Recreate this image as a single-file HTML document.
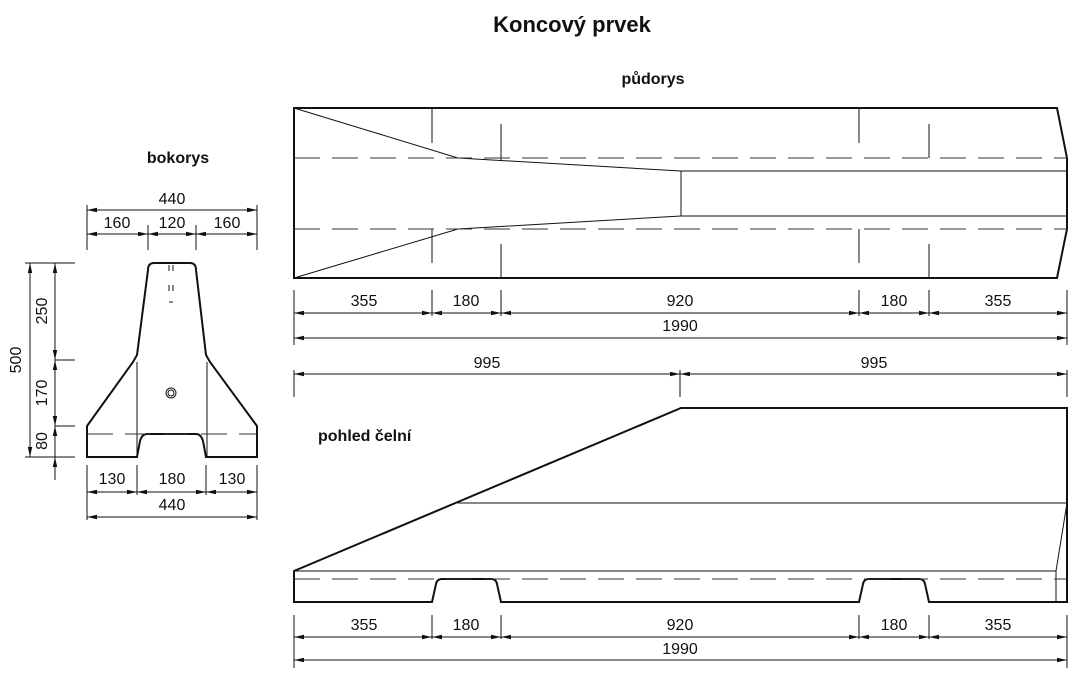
<!DOCTYPE html>
<html><head><meta charset="utf-8"><style>
html,body{margin:0;padding:0;background:#fff;}
svg{display:block;}
text{font-family:"Liberation Sans",sans-serif;fill:#111;}
.t{font-size:16px;text-anchor:middle;}
.b{font-weight:bold;}
</style></head><body>
<svg width="1087" height="691" viewBox="0 0 1087 691" xmlns="http://www.w3.org/2000/svg">
<defs>
<marker id="a" viewBox="0 0 10 6" refX="10" refY="3" markerWidth="10" markerHeight="6" orient="auto-start-reverse" markerUnits="userSpaceOnUse"><path d="M0,0.8 L10,3 L0,5.2 Z" fill="#111"/></marker>
</defs>
<text x="572" y="32" font-size="22" class="b" text-anchor="middle">Koncový prvek</text>
<text x="653" y="84" font-size="16" class="b" text-anchor="middle">půdorys</text>
<text x="178" y="163" font-size="16" class="b" text-anchor="middle">bokorys</text>
<text x="318" y="441" font-size="16" class="b">pohled čelní</text>

<g stroke="#111" fill="none">
<!-- plan -->
<path d="M294,108 H1057 L1067,158 V229 L1057,278 H294 Z" stroke-width="2"/>
<g stroke-width="1">
<path d="M294,108 L458,158 L681,171 H1067 M294,278 L458,229 L681,216 H1067 M681,171 V216"/>
<path d="M432,108 V143 M432,229 V263 M501,124 V160 M501,244 V278 M859,108 V143 M859,229 V263 M929,124 V158 M929,244 V278"/>
<path d="M294,158 H1067 M294,229 H1067" stroke-dasharray="26,12" stroke="#333"/>
</g>
<!-- plan dims -->
<g stroke-width="1">
<path d="M294,290 V345 M432,290 V316 M501,290 V316 M859,290 V316 M929,290 V316 M1067,290 V345"/>
<path d="M294,313 H432" marker-start="url(#a)" marker-end="url(#a)"/>
<path d="M432,313 H501" marker-start="url(#a)" marker-end="url(#a)"/>
<path d="M501,313 H859" marker-start="url(#a)" marker-end="url(#a)"/>
<path d="M859,313 H929" marker-start="url(#a)" marker-end="url(#a)"/>
<path d="M929,313 H1067" marker-start="url(#a)" marker-end="url(#a)"/>
<path d="M294,338 H1067" marker-start="url(#a)" marker-end="url(#a)"/>
<path d="M294,370 V397 M680,370 V397 M1067,370 V397"/>
<path d="M294,374 H680" marker-start="url(#a)" marker-end="url(#a)"/>
<path d="M680,374 H1067" marker-start="url(#a)" marker-end="url(#a)"/>
</g>
<!-- front view -->
<path d="M294,571 L681,408 H1067 V602 H929 L925,584 Q924,579 919,579 H869 Q864,579 863,584 L859,602 H501 L497,584 Q496,579 491,579 H442 Q437,579 436,584 L432,602 H294 Z" stroke-width="2"/>
<g stroke-width="1">
<path d="M458,503 H1067 M294,571 H1056 M1056,571 V602 M1056,571 L1067,503"/>
<path d="M294,579 H1067" stroke-dasharray="26,12" stroke="#333"/>
<path d="M294,615 V668 M432,615 V639 M501,615 V639 M859,615 V639 M929,615 V639 M1067,615 V668"/>
<path d="M294,637 H432" marker-start="url(#a)" marker-end="url(#a)"/>
<path d="M432,637 H501" marker-start="url(#a)" marker-end="url(#a)"/>
<path d="M501,637 H859" marker-start="url(#a)" marker-end="url(#a)"/>
<path d="M859,637 H929" marker-start="url(#a)" marker-end="url(#a)"/>
<path d="M929,637 H1067" marker-start="url(#a)" marker-end="url(#a)"/>
<path d="M294,660 H1067" marker-start="url(#a)" marker-end="url(#a)"/>
</g>
<!-- side view -->
<path d="M154,263 H190 Q196,263 196,270 L206,355 L210,362 L257,426 V457 H206 L203,441 Q201,434 196,434 H147 Q142,434 140,441 L137,457 H87 V426 L133,362 L137,355 L148,270 Q148,263 154,263 Z" stroke-width="2"/>
<g stroke-width="1">
<path d="M137,362 V457 M207,362 V457"/>
<path d="M87,434 H257" stroke-dasharray="26,12" stroke="#333"/>
<circle cx="171" cy="393" r="5"/><circle cx="171" cy="393" r="3"/>
<path d="M169,265 V271 M173,265 V271 M169,285 V291 M173,285 V291 M169,302 H173"/>
<path d="M87,205 V250 M148,225 V250 M196,225 V250 M257,205 V250"/>
<path d="M87,210 H257" marker-start="url(#a)" marker-end="url(#a)"/>
<path d="M87,234 H148" marker-start="url(#a)" marker-end="url(#a)"/>
<path d="M148,234 H196" marker-start="url(#a)" marker-end="url(#a)"/>
<path d="M196,234 H257" marker-start="url(#a)" marker-end="url(#a)"/>
<path d="M25,263 H75 M55,360 H75 M55,426 H75 M25,457 H75"/>
<path d="M30,263 V457" marker-start="url(#a)" marker-end="url(#a)"/>
<path d="M55,263 V360" marker-start="url(#a)" marker-end="url(#a)"/>
<path d="M55,360 V426" marker-start="url(#a)" marker-end="url(#a)"/>
<path d="M55,426 V457" marker-start="url(#a)"/>
<path d="M55,480 V457" marker-end="url(#a)"/>
<path d="M87,465 V520 M137,465 V495 M206,465 V495 M257,465 V520"/>
<path d="M87,492 H137" marker-start="url(#a)" marker-end="url(#a)"/>
<path d="M137,492 H206" marker-start="url(#a)" marker-end="url(#a)"/>
<path d="M206,492 H257" marker-start="url(#a)" marker-end="url(#a)"/>
<path d="M87,517 H257" marker-start="url(#a)" marker-end="url(#a)"/>
</g>
</g>

<g class="t">
<text x="364" y="306">355</text><text x="466" y="306">180</text><text x="680" y="306">920</text><text x="894" y="306">180</text><text x="998" y="306">355</text>
<text x="680" y="331">1990</text>
<text x="487" y="368">995</text><text x="874" y="368">995</text>
<text x="364" y="630">355</text><text x="466" y="630">180</text><text x="680" y="630">920</text><text x="894" y="630">180</text><text x="998" y="630">355</text>
<text x="680" y="654">1990</text>
<text x="172" y="204">440</text>
<text x="117" y="228">160</text><text x="172" y="228">120</text><text x="227" y="228">160</text>
<text x="112" y="484">130</text><text x="172" y="484">180</text><text x="232" y="484">130</text>
<text x="172" y="510">440</text>
<text transform="translate(21,360) rotate(-90)">500</text>
<text transform="translate(47,311) rotate(-90)">250</text>
<text transform="translate(47,393) rotate(-90)">170</text>
<text transform="translate(47,441) rotate(-90)">80</text>
</g>
</svg>
</body></html>
